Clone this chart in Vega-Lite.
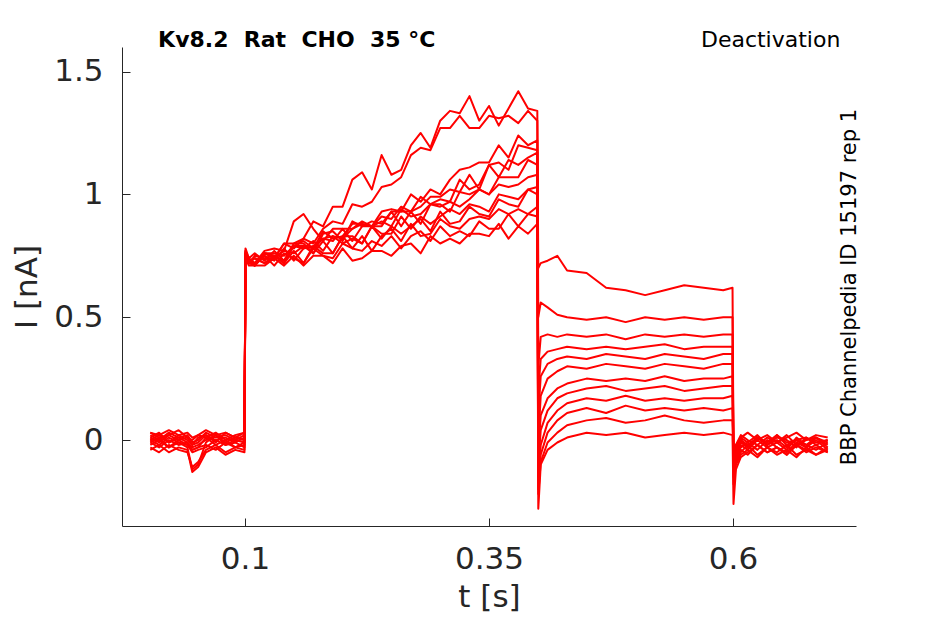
{
  "$schema": "https://vega.github.io/schema/vega-lite/v6.json",
  "width": 734,
  "height": 479,
  "autosize": "none",
  "padding": {"left": 122, "top": 47, "right": 89, "bottom": 98},
  "background": "white",
  "config": {
    "view": {"stroke": null},
    "axis": {
      "grid": false,
      "domainColor": "#262626",
      "tickColor": "#262626",
      "labelColor": "#262626",
      "titleColor": "#262626",
      "labelFont": "DejaVu Sans",
      "titleFont": "DejaVu Sans",
      "labelFontSize": 31,
      "titleFontSize": 31,
      "titleFontWeight": "normal",
      "tickSize": -8,
      "tickWidth": 1,
      "domainWidth": 1
    }
  },
  "layer": [
    {
      "data": {
        "values": [
          {"k":1,"t":0.003,"i":0.02},{"k":1,"t":0.012,"i":0.0},{"k":1,"t":0.022,"i":0.03},{"k":1,"t":0.032,"i":0.01},{"k":1,"t":0.041,"i":0.02},{"k":1,"t":0.046,"i":-0.01},{"k":1,"t":0.052,"i":0.0},{"k":1,"t":0.06,"i":0.03},{"k":1,"t":0.07,"i":0.01},{"k":1,"t":0.08,"i":0.02},{"k":1,"t":0.09,"i":0.0},{"k":1,"t":0.0995,"i":0.02},
          {"k":1,"t":0.1005,"i":0.77},{"k":1,"t":0.104,"i":0.73},{"k":1,"t":0.11,"i":0.72},{"k":1,"t":0.12,"i":0.76},{"k":1,"t":0.13,"i":0.74},{"k":1,"t":0.14,"i":0.8},{"k":1,"t":0.15,"i":0.8},{"k":1,"t":0.16,"i":0.82},{"k":1,"t":0.17,"i":0.89},{"k":1,"t":0.18,"i":0.87},{"k":1,"t":0.19,"i":0.95},{"k":1,"t":0.2,"i":0.95},{"k":1,"t":0.21,"i":1.06},{"k":1,"t":0.22,"i":1.09},{"k":1,"t":0.23,"i":1.02},{"k":1,"t":0.24,"i":1.16},{"k":1,"t":0.25,"i":1.08},{"k":1,"t":0.26,"i":1.1},{"k":1,"t":0.27,"i":1.2},{"k":1,"t":0.28,"i":1.25},{"k":1,"t":0.29,"i":1.19},{"k":1,"t":0.3,"i":1.3},{"k":1,"t":0.31,"i":1.34},{"k":1,"t":0.32,"i":1.33},{"k":1,"t":0.33,"i":1.4},{"k":1,"t":0.34,"i":1.3},{"k":1,"t":0.35,"i":1.36},{"k":1,"t":0.36,"i":1.28},{"k":1,"t":0.37,"i":1.35},{"k":1,"t":0.38,"i":1.42},{"k":1,"t":0.39,"i":1.35},{"k":1,"t":0.3995,"i":1.34},
          {"k":1,"t":0.4005,"i":0.7},{"k":1,"t":0.403,"i":0.72},{"k":1,"t":0.41,"i":0.73},{"k":1,"t":0.42,"i":0.75},{"k":1,"t":0.43,"i":0.69},{"k":1,"t":0.45,"i":0.68},{"k":1,"t":0.47,"i":0.62},{"k":1,"t":0.49,"i":0.61},{"k":1,"t":0.51,"i":0.59},{"k":1,"t":0.53,"i":0.61},{"k":1,"t":0.55,"i":0.63},{"k":1,"t":0.57,"i":0.62},{"k":1,"t":0.59,"i":0.61},{"k":1,"t":0.5995,"i":0.62},
          {"k":1,"t":0.6005,"i":-0.05},{"k":1,"t":0.603,"i":-0.02},{"k":1,"t":0.608,"i":0.01},{"k":1,"t":0.615,"i":-0.01},{"k":1,"t":0.625,"i":0.02},{"k":1,"t":0.635,"i":-0.02},{"k":1,"t":0.645,"i":0.01},{"k":1,"t":0.655,"i":0.0},{"k":1,"t":0.665,"i":-0.03},{"k":1,"t":0.675,"i":0.01},{"k":1,"t":0.685,"i":-0.01},{"k":1,"t":0.697,"i":0.0},

          {"k":2,"t":0.003,"i":0.01},{"k":2,"t":0.012,"i":0.03},{"k":2,"t":0.022,"i":-0.01},{"k":2,"t":0.032,"i":0.02},{"k":2,"t":0.041,"i":0.0},{"k":2,"t":0.046,"i":-0.02},{"k":2,"t":0.052,"i":0.01},{"k":2,"t":0.06,"i":0.02},{"k":2,"t":0.07,"i":-0.01},{"k":2,"t":0.08,"i":0.03},{"k":2,"t":0.09,"i":0.01},{"k":2,"t":0.0995,"i":0.0},
          {"k":2,"t":0.1005,"i":0.76},{"k":2,"t":0.104,"i":0.72},{"k":2,"t":0.11,"i":0.75},{"k":2,"t":0.12,"i":0.74},{"k":2,"t":0.13,"i":0.74},{"k":2,"t":0.14,"i":0.8},{"k":2,"t":0.15,"i":0.78},{"k":2,"t":0.16,"i":0.82},{"k":2,"t":0.17,"i":0.8},{"k":2,"t":0.18,"i":0.86},{"k":2,"t":0.19,"i":0.89},{"k":2,"t":0.2,"i":0.88},{"k":2,"t":0.21,"i":0.96},{"k":2,"t":0.22,"i":0.95},{"k":2,"t":0.23,"i":0.97},{"k":2,"t":0.24,"i":1.03},{"k":2,"t":0.25,"i":1.04},{"k":2,"t":0.26,"i":1.07},{"k":2,"t":0.27,"i":1.16},{"k":2,"t":0.28,"i":1.19},{"k":2,"t":0.29,"i":1.18},{"k":2,"t":0.3,"i":1.27},{"k":2,"t":0.31,"i":1.27},{"k":2,"t":0.32,"i":1.32},{"k":2,"t":0.33,"i":1.27},{"k":2,"t":0.34,"i":1.27},{"k":2,"t":0.35,"i":1.32},{"k":2,"t":0.36,"i":1.31},{"k":2,"t":0.37,"i":1.32},{"k":2,"t":0.38,"i":1.29},{"k":2,"t":0.39,"i":1.34},{"k":2,"t":0.3995,"i":1.3},
          {"k":2,"t":0.4005,"i":0.5},{"k":2,"t":0.403,"i":0.56},{"k":2,"t":0.41,"i":0.54},{"k":2,"t":0.42,"i":0.51},{"k":2,"t":0.43,"i":0.5},{"k":2,"t":0.45,"i":0.49},{"k":2,"t":0.47,"i":0.5},{"k":2,"t":0.49,"i":0.48},{"k":2,"t":0.51,"i":0.5},{"k":2,"t":0.53,"i":0.49},{"k":2,"t":0.55,"i":0.5},{"k":2,"t":0.57,"i":0.49},{"k":2,"t":0.59,"i":0.5},{"k":2,"t":0.5995,"i":0.5},
          {"k":2,"t":0.6005,"i":-0.08},{"k":2,"t":0.603,"i":-0.04},{"k":2,"t":0.608,"i":0.0},{"k":2,"t":0.615,"i":-0.03},{"k":2,"t":0.625,"i":0.01},{"k":2,"t":0.635,"i":-0.02},{"k":2,"t":0.645,"i":0.02},{"k":2,"t":0.655,"i":-0.01},{"k":2,"t":0.665,"i":0.0},{"k":2,"t":0.675,"i":-0.03},{"k":2,"t":0.685,"i":0.01},{"k":2,"t":0.697,"i":-0.01},

          {"k":3,"t":0.003,"i":0.0},{"k":3,"t":0.012,"i":-0.02},{"k":3,"t":0.022,"i":0.01},{"k":3,"t":0.032,"i":-0.01},{"k":3,"t":0.041,"i":-0.03},{"k":3,"t":0.046,"i":-0.12},{"k":3,"t":0.052,"i":-0.1},{"k":3,"t":0.06,"i":-0.01},{"k":3,"t":0.07,"i":0.02},{"k":3,"t":0.08,"i":-0.02},{"k":3,"t":0.09,"i":0.0},{"k":3,"t":0.0995,"i":-0.01},
          {"k":3,"t":0.1005,"i":0.78},{"k":3,"t":0.104,"i":0.74},{"k":3,"t":0.11,"i":0.76},{"k":3,"t":0.12,"i":0.73},{"k":3,"t":0.13,"i":0.77},{"k":3,"t":0.14,"i":0.73},{"k":3,"t":0.15,"i":0.79},{"k":3,"t":0.16,"i":0.81},{"k":3,"t":0.17,"i":0.78},{"k":3,"t":0.18,"i":0.85},{"k":3,"t":0.19,"i":0.82},{"k":3,"t":0.2,"i":0.83},{"k":3,"t":0.21,"i":0.88},{"k":3,"t":0.22,"i":0.88},{"k":3,"t":0.23,"i":0.87},{"k":3,"t":0.24,"i":0.93},{"k":3,"t":0.25,"i":0.94},{"k":3,"t":0.26,"i":0.93},{"k":3,"t":0.27,"i":1.0},{"k":3,"t":0.28,"i":0.97},{"k":3,"t":0.29,"i":1.02},{"k":3,"t":0.3,"i":1.0},{"k":3,"t":0.31,"i":1.06},{"k":3,"t":0.32,"i":1.1},{"k":3,"t":0.33,"i":1.11},{"k":3,"t":0.34,"i":1.13},{"k":3,"t":0.35,"i":1.13},{"k":3,"t":0.36,"i":1.2},{"k":3,"t":0.37,"i":1.15},{"k":3,"t":0.38,"i":1.24},{"k":3,"t":0.39,"i":1.2},{"k":3,"t":0.3995,"i":1.22},
          {"k":3,"t":0.4005,"i":0.3},{"k":3,"t":0.403,"i":0.42},{"k":3,"t":0.41,"i":0.43},{"k":3,"t":0.42,"i":0.42},{"k":3,"t":0.43,"i":0.43},{"k":3,"t":0.45,"i":0.42},{"k":3,"t":0.47,"i":0.43},{"k":3,"t":0.49,"i":0.41},{"k":3,"t":0.51,"i":0.43},{"k":3,"t":0.53,"i":0.42},{"k":3,"t":0.55,"i":0.43},{"k":3,"t":0.57,"i":0.42},{"k":3,"t":0.59,"i":0.43},{"k":3,"t":0.5995,"i":0.43},
          {"k":3,"t":0.6005,"i":-0.1},{"k":3,"t":0.603,"i":-0.06},{"k":3,"t":0.608,"i":-0.02},{"k":3,"t":0.615,"i":-0.04},{"k":3,"t":0.625,"i":0.0},{"k":3,"t":0.635,"i":-0.03},{"k":3,"t":0.645,"i":-0.01},{"k":3,"t":0.655,"i":-0.04},{"k":3,"t":0.665,"i":0.01},{"k":3,"t":0.675,"i":-0.02},{"k":3,"t":0.685,"i":-0.04},{"k":3,"t":0.697,"i":-0.01},

          {"k":4,"t":0.003,"i":-0.01},{"k":4,"t":0.012,"i":0.01},{"k":4,"t":0.022,"i":-0.03},{"k":4,"t":0.032,"i":0.0},{"k":4,"t":0.041,"i":-0.02},{"k":4,"t":0.046,"i":-0.04},{"k":4,"t":0.052,"i":-0.03},{"k":4,"t":0.06,"i":0.01},{"k":4,"t":0.07,"i":-0.02},{"k":4,"t":0.08,"i":0.0},{"k":4,"t":0.09,"i":-0.03},{"k":4,"t":0.0995,"i":-0.01},
          {"k":4,"t":0.1005,"i":0.75},{"k":4,"t":0.104,"i":0.73},{"k":4,"t":0.11,"i":0.71},{"k":4,"t":0.12,"i":0.76},{"k":4,"t":0.13,"i":0.76},{"k":4,"t":0.14,"i":0.75},{"k":4,"t":0.15,"i":0.79},{"k":4,"t":0.16,"i":0.78},{"k":4,"t":0.17,"i":0.79},{"k":4,"t":0.18,"i":0.82},{"k":4,"t":0.19,"i":0.83},{"k":4,"t":0.2,"i":0.82},{"k":4,"t":0.21,"i":0.86},{"k":4,"t":0.22,"i":0.88},{"k":4,"t":0.23,"i":0.87},{"k":4,"t":0.24,"i":0.91},{"k":4,"t":0.25,"i":0.9},{"k":4,"t":0.26,"i":0.95},{"k":4,"t":0.27,"i":0.93},{"k":4,"t":0.28,"i":0.95},{"k":4,"t":0.29,"i":0.99},{"k":4,"t":0.3,"i":0.99},{"k":4,"t":0.31,"i":1.02},{"k":4,"t":0.32,"i":1.01},{"k":4,"t":0.33,"i":1.08},{"k":4,"t":0.34,"i":1.02},{"k":4,"t":0.35,"i":1.12},{"k":4,"t":0.36,"i":1.13},{"k":4,"t":0.37,"i":1.1},{"k":4,"t":0.38,"i":1.2},{"k":4,"t":0.39,"i":1.19},{"k":4,"t":0.3995,"i":1.18},
          {"k":4,"t":0.4005,"i":0.2},{"k":4,"t":0.403,"i":0.33},{"k":4,"t":0.41,"i":0.36},{"k":4,"t":0.42,"i":0.37},{"k":4,"t":0.43,"i":0.38},{"k":4,"t":0.45,"i":0.37},{"k":4,"t":0.47,"i":0.38},{"k":4,"t":0.49,"i":0.37},{"k":4,"t":0.51,"i":0.38},{"k":4,"t":0.53,"i":0.39},{"k":4,"t":0.55,"i":0.37},{"k":4,"t":0.57,"i":0.38},{"k":4,"t":0.59,"i":0.38},{"k":4,"t":0.5995,"i":0.38},
          {"k":4,"t":0.6005,"i":-0.12},{"k":4,"t":0.603,"i":-0.07},{"k":4,"t":0.608,"i":-0.03},{"k":4,"t":0.615,"i":-0.01},{"k":4,"t":0.625,"i":-0.04},{"k":4,"t":0.635,"i":0.0},{"k":4,"t":0.645,"i":-0.03},{"k":4,"t":0.655,"i":-0.05},{"k":4,"t":0.665,"i":-0.01},{"k":4,"t":0.675,"i":-0.03},{"k":4,"t":0.685,"i":0.0},{"k":4,"t":0.697,"i":-0.04},

          {"k":5,"t":0.003,"i":0.03},{"k":5,"t":0.012,"i":0.01},{"k":5,"t":0.022,"i":0.02},{"k":5,"t":0.032,"i":0.04},{"k":5,"t":0.041,"i":0.01},{"k":5,"t":0.046,"i":0.0},{"k":5,"t":0.052,"i":0.02},{"k":5,"t":0.06,"i":0.01},{"k":5,"t":0.07,"i":0.03},{"k":5,"t":0.08,"i":0.0},{"k":5,"t":0.09,"i":0.02},{"k":5,"t":0.0995,"i":0.03},
          {"k":5,"t":0.1005,"i":0.76},{"k":5,"t":0.104,"i":0.72},{"k":5,"t":0.11,"i":0.72},{"k":5,"t":0.12,"i":0.76},{"k":5,"t":0.13,"i":0.75},{"k":5,"t":0.14,"i":0.73},{"k":5,"t":0.15,"i":0.8},{"k":5,"t":0.16,"i":0.8},{"k":5,"t":0.17,"i":0.76},{"k":5,"t":0.18,"i":0.84},{"k":5,"t":0.19,"i":0.85},{"k":5,"t":0.2,"i":0.81},{"k":5,"t":0.21,"i":0.89},{"k":5,"t":0.22,"i":0.87},{"k":5,"t":0.23,"i":0.89},{"k":5,"t":0.24,"i":0.88},{"k":5,"t":0.25,"i":0.93},{"k":5,"t":0.26,"i":0.93},{"k":5,"t":0.27,"i":0.93},{"k":5,"t":0.28,"i":0.99},{"k":5,"t":0.29,"i":0.96},{"k":5,"t":0.3,"i":0.98},{"k":5,"t":0.31,"i":0.97},{"k":5,"t":0.32,"i":1.06},{"k":5,"t":0.33,"i":1.02},{"k":5,"t":0.34,"i":1.04},{"k":5,"t":0.35,"i":1.12},{"k":5,"t":0.36,"i":1.07},{"k":5,"t":0.37,"i":1.14},{"k":5,"t":0.38,"i":1.12},{"k":5,"t":0.39,"i":1.15},{"k":5,"t":0.3995,"i":1.17},
          {"k":5,"t":0.4005,"i":0.1},{"k":5,"t":0.403,"i":0.26},{"k":5,"t":0.41,"i":0.31},{"k":5,"t":0.42,"i":0.33},{"k":5,"t":0.43,"i":0.34},{"k":5,"t":0.45,"i":0.33},{"k":5,"t":0.47,"i":0.35},{"k":5,"t":0.49,"i":0.34},{"k":5,"t":0.51,"i":0.33},{"k":5,"t":0.53,"i":0.35},{"k":5,"t":0.55,"i":0.34},{"k":5,"t":0.57,"i":0.33},{"k":5,"t":0.59,"i":0.35},{"k":5,"t":0.5995,"i":0.35},
          {"k":5,"t":0.6005,"i":-0.06},{"k":5,"t":0.603,"i":-0.02},{"k":5,"t":0.608,"i":0.02},{"k":5,"t":0.615,"i":0.0},{"k":5,"t":0.625,"i":-0.02},{"k":5,"t":0.635,"i":0.01},{"k":5,"t":0.645,"i":-0.01},{"k":5,"t":0.655,"i":0.02},{"k":5,"t":0.665,"i":-0.02},{"k":5,"t":0.675,"i":0.0},{"k":5,"t":0.685,"i":0.01},{"k":5,"t":0.697,"i":-0.02},

          {"k":6,"t":0.003,"i":-0.03},{"k":6,"t":0.012,"i":-0.05},{"k":6,"t":0.022,"i":-0.02},{"k":6,"t":0.032,"i":-0.04},{"k":6,"t":0.041,"i":-0.05},{"k":6,"t":0.046,"i":-0.11},{"k":6,"t":0.052,"i":-0.09},{"k":6,"t":0.06,"i":-0.04},{"k":6,"t":0.07,"i":-0.02},{"k":6,"t":0.08,"i":-0.05},{"k":6,"t":0.09,"i":-0.03},{"k":6,"t":0.0995,"i":-0.04},
          {"k":6,"t":0.1005,"i":0.74},{"k":6,"t":0.104,"i":0.73},{"k":6,"t":0.11,"i":0.71},{"k":6,"t":0.12,"i":0.76},{"k":6,"t":0.13,"i":0.75},{"k":6,"t":0.14,"i":0.72},{"k":6,"t":0.15,"i":0.79},{"k":6,"t":0.16,"i":0.79},{"k":6,"t":0.17,"i":0.78},{"k":6,"t":0.18,"i":0.82},{"k":6,"t":0.19,"i":0.81},{"k":6,"t":0.2,"i":0.86},{"k":6,"t":0.21,"i":0.81},{"k":6,"t":0.22,"i":0.87},{"k":6,"t":0.23,"i":0.87},{"k":6,"t":0.24,"i":0.87},{"k":6,"t":0.25,"i":0.93},{"k":6,"t":0.26,"i":0.87},{"k":6,"t":0.27,"i":0.93},{"k":6,"t":0.28,"i":0.88},{"k":6,"t":0.29,"i":0.96},{"k":6,"t":0.3,"i":0.96},{"k":6,"t":0.31,"i":0.93},{"k":6,"t":0.32,"i":1.01},{"k":6,"t":0.33,"i":1.0},{"k":6,"t":0.34,"i":1.02},{"k":6,"t":0.35,"i":1.0},{"k":6,"t":0.36,"i":1.07},{"k":6,"t":0.37,"i":1.07},{"k":6,"t":0.38,"i":1.07},{"k":6,"t":0.39,"i":1.14},{"k":6,"t":0.3995,"i":1.12},
          {"k":6,"t":0.4005,"i":0.0},{"k":6,"t":0.403,"i":0.18},{"k":6,"t":0.41,"i":0.25},{"k":6,"t":0.42,"i":0.28},{"k":6,"t":0.43,"i":0.3},{"k":6,"t":0.45,"i":0.29},{"k":6,"t":0.47,"i":0.31},{"k":6,"t":0.49,"i":0.3},{"k":6,"t":0.51,"i":0.29},{"k":6,"t":0.53,"i":0.31},{"k":6,"t":0.55,"i":0.3},{"k":6,"t":0.57,"i":0.29},{"k":6,"t":0.59,"i":0.31},{"k":6,"t":0.5995,"i":0.31},
          {"k":6,"t":0.6005,"i":-0.15},{"k":6,"t":0.603,"i":-0.09},{"k":6,"t":0.608,"i":-0.05},{"k":6,"t":0.615,"i":-0.02},{"k":6,"t":0.625,"i":-0.06},{"k":6,"t":0.635,"i":-0.03},{"k":6,"t":0.645,"i":-0.05},{"k":6,"t":0.655,"i":-0.02},{"k":6,"t":0.665,"i":-0.06},{"k":6,"t":0.675,"i":-0.04},{"k":6,"t":0.685,"i":-0.02},{"k":6,"t":0.697,"i":-0.05},

          {"k":7,"t":0.003,"i":0.0},{"k":7,"t":0.012,"i":0.02},{"k":7,"t":0.022,"i":-0.01},{"k":7,"t":0.032,"i":0.01},{"k":7,"t":0.041,"i":-0.01},{"k":7,"t":0.046,"i":-0.03},{"k":7,"t":0.052,"i":-0.02},{"k":7,"t":0.06,"i":0.0},{"k":7,"t":0.07,"i":0.02},{"k":7,"t":0.08,"i":-0.01},{"k":7,"t":0.09,"i":0.01},{"k":7,"t":0.0995,"i":0.0},
          {"k":7,"t":0.1005,"i":0.77},{"k":7,"t":0.104,"i":0.74},{"k":7,"t":0.11,"i":0.72},{"k":7,"t":0.12,"i":0.77},{"k":7,"t":0.13,"i":0.78},{"k":7,"t":0.14,"i":0.77},{"k":7,"t":0.15,"i":0.89},{"k":7,"t":0.16,"i":0.92},{"k":7,"t":0.17,"i":0.86},{"k":7,"t":0.18,"i":0.81},{"k":7,"t":0.19,"i":0.86},{"k":7,"t":0.2,"i":0.86},{"k":7,"t":0.21,"i":0.86},{"k":7,"t":0.22,"i":0.89},{"k":7,"t":0.23,"i":0.87},{"k":7,"t":0.24,"i":0.89},{"k":7,"t":0.25,"i":0.87},{"k":7,"t":0.26,"i":0.94},{"k":7,"t":0.27,"i":0.91},{"k":7,"t":0.28,"i":0.92},{"k":7,"t":0.29,"i":0.96},{"k":7,"t":0.3,"i":0.95},{"k":7,"t":0.31,"i":0.97},{"k":7,"t":0.32,"i":0.95},{"k":7,"t":0.33,"i":0.98},{"k":7,"t":0.34,"i":1.02},{"k":7,"t":0.35,"i":1.0},{"k":7,"t":0.36,"i":1.04},{"k":7,"t":0.37,"i":1.03},{"k":7,"t":0.38,"i":1.04},{"k":7,"t":0.39,"i":1.07},{"k":7,"t":0.3995,"i":1.08},
          {"k":7,"t":0.4005,"i":-0.05},{"k":7,"t":0.403,"i":0.1},{"k":7,"t":0.41,"i":0.17},{"k":7,"t":0.42,"i":0.21},{"k":7,"t":0.43,"i":0.23},{"k":7,"t":0.45,"i":0.25},{"k":7,"t":0.47,"i":0.24},{"k":7,"t":0.49,"i":0.25},{"k":7,"t":0.51,"i":0.24},{"k":7,"t":0.53,"i":0.26},{"k":7,"t":0.55,"i":0.24},{"k":7,"t":0.57,"i":0.25},{"k":7,"t":0.59,"i":0.25},{"k":7,"t":0.5995,"i":0.26},
          {"k":7,"t":0.6005,"i":-0.11},{"k":7,"t":0.603,"i":-0.05},{"k":7,"t":0.608,"i":-0.01},{"k":7,"t":0.615,"i":-0.03},{"k":7,"t":0.625,"i":0.01},{"k":7,"t":0.635,"i":-0.02},{"k":7,"t":0.645,"i":0.0},{"k":7,"t":0.655,"i":-0.03},{"k":7,"t":0.665,"i":0.0},{"k":7,"t":0.675,"i":-0.02},{"k":7,"t":0.685,"i":0.01},{"k":7,"t":0.697,"i":-0.03},

          {"k":8,"t":0.003,"i":-0.02},{"k":8,"t":0.012,"i":0.0},{"k":8,"t":0.022,"i":-0.03},{"k":8,"t":0.032,"i":-0.01},{"k":8,"t":0.041,"i":-0.02},{"k":8,"t":0.046,"i":-0.05},{"k":8,"t":0.052,"i":-0.04},{"k":8,"t":0.06,"i":-0.03},{"k":8,"t":0.07,"i":0.0},{"k":8,"t":0.08,"i":-0.02},{"k":8,"t":0.09,"i":-0.01},{"k":8,"t":0.0995,"i":-0.03},
          {"k":8,"t":0.1005,"i":0.75},{"k":8,"t":0.104,"i":0.72},{"k":8,"t":0.11,"i":0.71},{"k":8,"t":0.12,"i":0.75},{"k":8,"t":0.13,"i":0.73},{"k":8,"t":0.14,"i":0.78},{"k":8,"t":0.15,"i":0.73},{"k":8,"t":0.16,"i":0.78},{"k":8,"t":0.17,"i":0.81},{"k":8,"t":0.18,"i":0.77},{"k":8,"t":0.19,"i":0.83},{"k":8,"t":0.2,"i":0.8},{"k":8,"t":0.21,"i":0.82},{"k":8,"t":0.22,"i":0.8},{"k":8,"t":0.23,"i":0.87},{"k":8,"t":0.24,"i":0.84},{"k":8,"t":0.25,"i":0.84},{"k":8,"t":0.26,"i":0.91},{"k":8,"t":0.27,"i":0.86},{"k":8,"t":0.28,"i":0.91},{"k":8,"t":0.29,"i":0.88},{"k":8,"t":0.3,"i":0.91},{"k":8,"t":0.31,"i":0.94},{"k":8,"t":0.32,"i":0.92},{"k":8,"t":0.33,"i":0.96},{"k":8,"t":0.34,"i":0.95},{"k":8,"t":0.35,"i":0.93},{"k":8,"t":0.36,"i":1.0},{"k":8,"t":0.37,"i":0.99},{"k":8,"t":0.38,"i":0.98},{"k":8,"t":0.39,"i":1.02},{"k":8,"t":0.3995,"i":1.03},
          {"k":8,"t":0.4005,"i":-0.1},{"k":8,"t":0.403,"i":0.04},{"k":8,"t":0.41,"i":0.12},{"k":8,"t":0.42,"i":0.17},{"k":8,"t":0.43,"i":0.19},{"k":8,"t":0.45,"i":0.21},{"k":8,"t":0.47,"i":0.22},{"k":8,"t":0.49,"i":0.2},{"k":8,"t":0.51,"i":0.21},{"k":8,"t":0.53,"i":0.22},{"k":8,"t":0.55,"i":0.2},{"k":8,"t":0.57,"i":0.21},{"k":8,"t":0.59,"i":0.22},{"k":8,"t":0.5995,"i":0.22},
          {"k":8,"t":0.6005,"i":-0.13},{"k":8,"t":0.603,"i":-0.08},{"k":8,"t":0.608,"i":-0.04},{"k":8,"t":0.615,"i":-0.06},{"k":8,"t":0.625,"i":-0.02},{"k":8,"t":0.635,"i":-0.05},{"k":8,"t":0.645,"i":-0.03},{"k":8,"t":0.655,"i":-0.06},{"k":8,"t":0.665,"i":-0.02},{"k":8,"t":0.675,"i":-0.05},{"k":8,"t":0.685,"i":-0.03},{"k":8,"t":0.697,"i":-0.05},

          {"k":9,"t":0.003,"i":0.01},{"k":9,"t":0.012,"i":-0.01},{"k":9,"t":0.022,"i":0.02},{"k":9,"t":0.032,"i":0.0},{"k":9,"t":0.041,"i":0.01},{"k":9,"t":0.046,"i":-0.02},{"k":9,"t":0.052,"i":-0.01},{"k":9,"t":0.06,"i":0.02},{"k":9,"t":0.07,"i":0.0},{"k":9,"t":0.08,"i":0.01},{"k":9,"t":0.09,"i":-0.01},{"k":9,"t":0.0995,"i":0.01},
          {"k":9,"t":0.1005,"i":0.76},{"k":9,"t":0.104,"i":0.73},{"k":9,"t":0.11,"i":0.74},{"k":9,"t":0.12,"i":0.72},{"k":9,"t":0.13,"i":0.74},{"k":9,"t":0.14,"i":0.77},{"k":9,"t":0.15,"i":0.76},{"k":9,"t":0.16,"i":0.79},{"k":9,"t":0.17,"i":0.76},{"k":9,"t":0.18,"i":0.81},{"k":9,"t":0.19,"i":0.76},{"k":9,"t":0.2,"i":0.83},{"k":9,"t":0.21,"i":0.83},{"k":9,"t":0.22,"i":0.8},{"k":9,"t":0.23,"i":0.87},{"k":9,"t":0.24,"i":0.82},{"k":9,"t":0.25,"i":0.87},{"k":9,"t":0.26,"i":0.84},{"k":9,"t":0.27,"i":0.87},{"k":9,"t":0.28,"i":0.9},{"k":9,"t":0.29,"i":0.85},{"k":9,"t":0.3,"i":0.93},{"k":9,"t":0.31,"i":0.88},{"k":9,"t":0.32,"i":0.89},{"k":9,"t":0.33,"i":0.95},{"k":9,"t":0.34,"i":0.92},{"k":9,"t":0.35,"i":0.91},{"k":9,"t":0.36,"i":0.98},{"k":9,"t":0.37,"i":0.96},{"k":9,"t":0.38,"i":0.95},{"k":9,"t":0.39,"i":1.02},{"k":9,"t":0.3995,"i":1.0},
          {"k":9,"t":0.4005,"i":-0.15},{"k":9,"t":0.403,"i":-0.02},{"k":9,"t":0.41,"i":0.07},{"k":9,"t":0.42,"i":0.12},{"k":9,"t":0.43,"i":0.15},{"k":9,"t":0.45,"i":0.17},{"k":9,"t":0.47,"i":0.16},{"k":9,"t":0.49,"i":0.18},{"k":9,"t":0.51,"i":0.16},{"k":9,"t":0.53,"i":0.17},{"k":9,"t":0.55,"i":0.16},{"k":9,"t":0.57,"i":0.17},{"k":9,"t":0.59,"i":0.17},{"k":9,"t":0.5995,"i":0.18},
          {"k":9,"t":0.6005,"i":-0.09},{"k":9,"t":0.603,"i":-0.04},{"k":9,"t":0.608,"i":0.0},{"k":9,"t":0.615,"i":-0.02},{"k":9,"t":0.625,"i":0.01},{"k":9,"t":0.635,"i":-0.01},{"k":9,"t":0.645,"i":0.02},{"k":9,"t":0.655,"i":-0.02},{"k":9,"t":0.665,"i":0.0},{"k":9,"t":0.675,"i":0.01},{"k":9,"t":0.685,"i":-0.02},{"k":9,"t":0.697,"i":0.0},

          {"k":10,"t":0.003,"i":-0.04},{"k":10,"t":0.012,"i":-0.02},{"k":10,"t":0.022,"i":-0.05},{"k":10,"t":0.032,"i":-0.03},{"k":10,"t":0.041,"i":-0.04},{"k":10,"t":0.046,"i":-0.13},{"k":10,"t":0.052,"i":-0.11},{"k":10,"t":0.06,"i":-0.05},{"k":10,"t":0.07,"i":-0.03},{"k":10,"t":0.08,"i":-0.06},{"k":10,"t":0.09,"i":-0.04},{"k":10,"t":0.0995,"i":-0.05},
          {"k":10,"t":0.1005,"i":0.74},{"k":10,"t":0.104,"i":0.72},{"k":10,"t":0.11,"i":0.74},{"k":10,"t":0.12,"i":0.72},{"k":10,"t":0.13,"i":0.75},{"k":10,"t":0.14,"i":0.72},{"k":10,"t":0.15,"i":0.77},{"k":10,"t":0.16,"i":0.72},{"k":10,"t":0.17,"i":0.79},{"k":10,"t":0.18,"i":0.76},{"k":10,"t":0.19,"i":0.76},{"k":10,"t":0.2,"i":0.83},{"k":10,"t":0.21,"i":0.78},{"k":10,"t":0.22,"i":0.83},{"k":10,"t":0.23,"i":0.77},{"k":10,"t":0.24,"i":0.83},{"k":10,"t":0.25,"i":0.86},{"k":10,"t":0.26,"i":0.81},{"k":10,"t":0.27,"i":0.88},{"k":10,"t":0.28,"i":0.83},{"k":10,"t":0.29,"i":0.84},{"k":10,"t":0.3,"i":0.9},{"k":10,"t":0.31,"i":0.87},{"k":10,"t":0.32,"i":0.86},{"k":10,"t":0.33,"i":0.9},{"k":10,"t":0.34,"i":0.91},{"k":10,"t":0.35,"i":0.9},{"k":10,"t":0.36,"i":0.94},{"k":10,"t":0.37,"i":0.92},{"k":10,"t":0.38,"i":0.94},{"k":10,"t":0.39,"i":0.92},{"k":10,"t":0.3995,"i":0.95},
          {"k":10,"t":0.4005,"i":-0.2},{"k":10,"t":0.403,"i":-0.06},{"k":10,"t":0.41,"i":0.03},{"k":10,"t":0.42,"i":0.08},{"k":10,"t":0.43,"i":0.11},{"k":10,"t":0.45,"i":0.13},{"k":10,"t":0.47,"i":0.11},{"k":10,"t":0.49,"i":0.14},{"k":10,"t":0.51,"i":0.12},{"k":10,"t":0.53,"i":0.13},{"k":10,"t":0.55,"i":0.12},{"k":10,"t":0.57,"i":0.13},{"k":10,"t":0.59,"i":0.12},{"k":10,"t":0.5995,"i":0.13},
          {"k":10,"t":0.6005,"i":-0.18},{"k":10,"t":0.603,"i":-0.1},{"k":10,"t":0.608,"i":-0.06},{"k":10,"t":0.615,"i":-0.04},{"k":10,"t":0.625,"i":-0.07},{"k":10,"t":0.635,"i":-0.03},{"k":10,"t":0.645,"i":-0.06},{"k":10,"t":0.655,"i":-0.04},{"k":10,"t":0.665,"i":-0.07},{"k":10,"t":0.675,"i":-0.03},{"k":10,"t":0.685,"i":-0.06},{"k":10,"t":0.697,"i":-0.04},

          {"k":11,"t":0.003,"i":0.03},{"k":11,"t":0.012,"i":0.02},{"k":11,"t":0.022,"i":0.04},{"k":11,"t":0.032,"i":0.02},{"k":11,"t":0.041,"i":0.03},{"k":11,"t":0.046,"i":0.01},{"k":11,"t":0.052,"i":0.02},{"k":11,"t":0.06,"i":0.04},{"k":11,"t":0.07,"i":0.02},{"k":11,"t":0.08,"i":0.03},{"k":11,"t":0.09,"i":0.01},{"k":11,"t":0.0995,"i":0.03},
          {"k":11,"t":0.1005,"i":0.75},{"k":11,"t":0.104,"i":0.73},{"k":11,"t":0.11,"i":0.72},{"k":11,"t":0.12,"i":0.75},{"k":11,"t":0.13,"i":0.71},{"k":11,"t":0.14,"i":0.76},{"k":11,"t":0.15,"i":0.74},{"k":11,"t":0.16,"i":0.72},{"k":11,"t":0.17,"i":0.78},{"k":11,"t":0.18,"i":0.75},{"k":11,"t":0.19,"i":0.74},{"k":11,"t":0.2,"i":0.8},{"k":11,"t":0.21,"i":0.78},{"k":11,"t":0.22,"i":0.77},{"k":11,"t":0.23,"i":0.81},{"k":11,"t":0.24,"i":0.79},{"k":11,"t":0.25,"i":0.83},{"k":11,"t":0.26,"i":0.78},{"k":11,"t":0.27,"i":0.83},{"k":11,"t":0.28,"i":0.85},{"k":11,"t":0.29,"i":0.81},{"k":11,"t":0.3,"i":0.87},{"k":11,"t":0.31,"i":0.83},{"k":11,"t":0.32,"i":0.85},{"k":11,"t":0.33,"i":0.83},{"k":11,"t":0.34,"i":0.89},{"k":11,"t":0.35,"i":0.86},{"k":11,"t":0.36,"i":0.86},{"k":11,"t":0.37,"i":0.92},{"k":11,"t":0.38,"i":0.87},{"k":11,"t":0.39,"i":0.92},{"k":11,"t":0.3995,"i":0.91},
          {"k":11,"t":0.4005,"i":-0.22},{"k":11,"t":0.403,"i":-0.09},{"k":11,"t":0.41,"i":-0.01},{"k":11,"t":0.42,"i":0.03},{"k":11,"t":0.43,"i":0.06},{"k":11,"t":0.45,"i":0.08},{"k":11,"t":0.47,"i":0.09},{"k":11,"t":0.49,"i":0.07},{"k":11,"t":0.51,"i":0.08},{"k":11,"t":0.53,"i":0.1},{"k":11,"t":0.55,"i":0.08},{"k":11,"t":0.57,"i":0.07},{"k":11,"t":0.59,"i":0.08},{"k":11,"t":0.5995,"i":0.08},
          {"k":11,"t":0.6005,"i":-0.07},{"k":11,"t":0.603,"i":-0.03},{"k":11,"t":0.608,"i":0.01},{"k":11,"t":0.615,"i":0.03},{"k":11,"t":0.625,"i":0.0},{"k":11,"t":0.635,"i":0.02},{"k":11,"t":0.645,"i":-0.01},{"k":11,"t":0.655,"i":0.01},{"k":11,"t":0.665,"i":0.03},{"k":11,"t":0.675,"i":0.0},{"k":11,"t":0.685,"i":0.02},{"k":11,"t":0.697,"i":0.01},

          {"k":12,"t":0.003,"i":-0.01},{"k":12,"t":0.012,"i":-0.03},{"k":12,"t":0.022,"i":0.0},{"k":12,"t":0.032,"i":-0.02},{"k":12,"t":0.041,"i":-0.01},{"k":12,"t":0.046,"i":-0.04},{"k":12,"t":0.052,"i":-0.03},{"k":12,"t":0.06,"i":-0.02},{"k":12,"t":0.07,"i":-0.04},{"k":12,"t":0.08,"i":-0.01},{"k":12,"t":0.09,"i":-0.03},{"k":12,"t":0.0995,"i":-0.02},
          {"k":12,"t":0.1005,"i":0.74},{"k":12,"t":0.104,"i":0.71},{"k":12,"t":0.11,"i":0.71},{"k":12,"t":0.12,"i":0.71},{"k":12,"t":0.13,"i":0.74},{"k":12,"t":0.14,"i":0.71},{"k":12,"t":0.15,"i":0.75},{"k":12,"t":0.16,"i":0.71},{"k":12,"t":0.17,"i":0.75},{"k":12,"t":0.18,"i":0.75},{"k":12,"t":0.19,"i":0.72},{"k":12,"t":0.2,"i":0.78},{"k":12,"t":0.21,"i":0.73},{"k":12,"t":0.22,"i":0.74},{"k":12,"t":0.23,"i":0.77},{"k":12,"t":0.24,"i":0.77},{"k":12,"t":0.25,"i":0.75},{"k":12,"t":0.26,"i":0.79},{"k":12,"t":0.27,"i":0.8},{"k":12,"t":0.28,"i":0.76},{"k":12,"t":0.29,"i":0.83},{"k":12,"t":0.3,"i":0.8},{"k":12,"t":0.31,"i":0.82},{"k":12,"t":0.32,"i":0.8},{"k":12,"t":0.33,"i":0.84},{"k":12,"t":0.34,"i":0.84},{"k":12,"t":0.35,"i":0.83},{"k":12,"t":0.36,"i":0.88},{"k":12,"t":0.37,"i":0.82},{"k":12,"t":0.38,"i":0.87},{"k":12,"t":0.39,"i":0.84},{"k":12,"t":0.3995,"i":0.88},
          {"k":12,"t":0.4005,"i":-0.28},{"k":12,"t":0.403,"i":-0.1},{"k":12,"t":0.41,"i":-0.04},{"k":12,"t":0.42,"i":-0.01},{"k":12,"t":0.43,"i":0.01},{"k":12,"t":0.45,"i":0.03},{"k":12,"t":0.47,"i":0.02},{"k":12,"t":0.49,"i":0.03},{"k":12,"t":0.51,"i":0.01},{"k":12,"t":0.53,"i":0.02},{"k":12,"t":0.55,"i":0.03},{"k":12,"t":0.57,"i":0.02},{"k":12,"t":0.59,"i":0.03},{"k":12,"t":0.5995,"i":0.02},
          {"k":12,"t":0.6005,"i":-0.26},{"k":12,"t":0.603,"i":-0.12},{"k":12,"t":0.608,"i":-0.07},{"k":12,"t":0.615,"i":-0.05},{"k":12,"t":0.625,"i":-0.02},{"k":12,"t":0.635,"i":-0.05},{"k":12,"t":0.645,"i":-0.03},{"k":12,"t":0.655,"i":-0.06},{"k":12,"t":0.665,"i":-0.02},{"k":12,"t":0.675,"i":-0.04},{"k":12,"t":0.685,"i":-0.06},{"k":12,"t":0.697,"i":-0.03}
        ]
      },
      "mark": {"type": "line", "color": "#ff0000", "strokeWidth": 2, "strokeJoin": "round"},
      "encoding": {
        "x": {
          "field": "t",
          "type": "quantitative",
          "scale": {"domain": [-0.026, 0.726], "nice": false, "zero": false},
          "axis": {"values": [0.1, 0.35, 0.6], "format": "~g", "title": "t [s]", "labelPadding": 26, "titlePadding": 8}
        },
        "y": {
          "field": "i",
          "type": "quantitative",
          "scale": {"domain": [-0.35, 1.6], "nice": false, "zero": false},
          "axis": {"values": [0, 0.5, 1, 1.5], "format": "~g", "title": "I [nA]", "labelPadding": 27, "titlePadding": 10}
        },
        "detail": {"field": "k", "type": "nominal"}
      }
    },
    {
      "data": {"values": [{}]},
      "mark": {"type": "text", "font": "DejaVu Sans", "fontWeight": "bold", "fontSize": 22, "align": "left", "baseline": "alphabetic", "color": "#000000"},
      "encoding": {
        "x": {"datum": 0.011, "type": "quantitative"},
        "y": {"datum": 1.6, "type": "quantitative"},
        "text": {"value": "Kv8.2\u00a0 Rat\u00a0 CHO\u00a0 35 °C"}
      }
    },
    {
      "data": {"values": [{}]},
      "mark": {"type": "text", "font": "DejaVu Sans", "fontSize": 22, "align": "right", "baseline": "alphabetic", "color": "#000000"},
      "encoding": {
        "x": {"datum": 0.71, "type": "quantitative"},
        "y": {"datum": 1.6, "type": "quantitative"},
        "text": {"value": "Deactivation"}
      }
    },
    {
      "data": {"values": [{}]},
      "mark": {"type": "text", "font": "DejaVu Sans", "fontSize": 21, "angle": 270, "align": "center", "baseline": "alphabetic", "color": "#000000"},
      "encoding": {
        "x": {"datum": 0.7265, "type": "quantitative"},
        "y": {"datum": 0.623, "type": "quantitative"},
        "text": {"value": "BBP Channelpedia ID 15197 rep 1"}
      }
    }
  ]
}
